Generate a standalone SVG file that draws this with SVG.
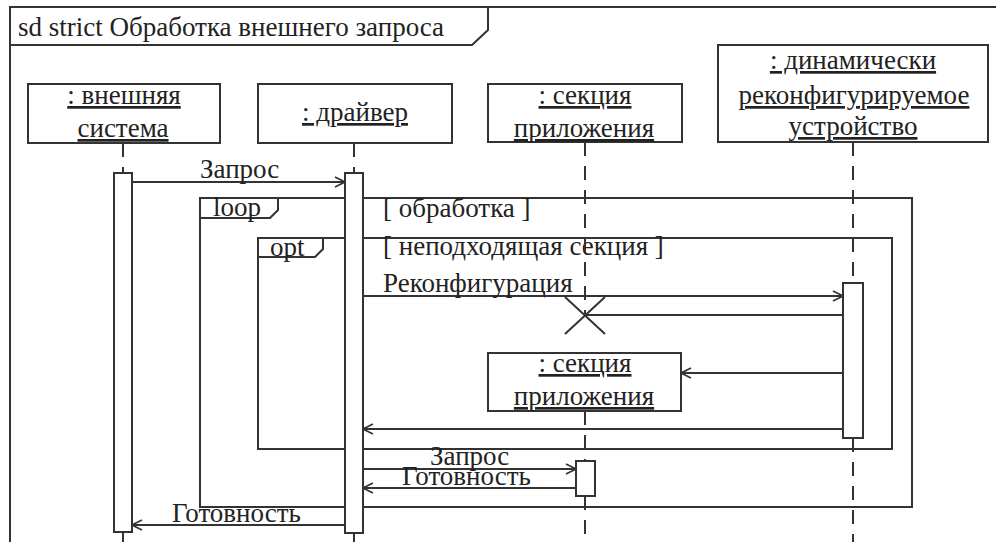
<svg xmlns="http://www.w3.org/2000/svg" width="996" height="542" viewBox="0 0 996 542" font-family="'Liberation Serif', 'DejaVu Serif', serif">
<defs>
<style>
text{font-family:'Liberation Serif','DejaVu Serif',serif;font-size:27px;fill:#222}
.u{text-decoration:underline}
.m{text-anchor:middle}
.ln{stroke:#333;stroke-width:2;fill:none}
.box{stroke:#333;stroke-width:2;fill:#fff}
.dash{stroke:#333;stroke-width:2;stroke-dasharray:14 10;fill:none}
.msg{stroke:#333;stroke-width:2;fill:none}
.arr{marker-end:url(#open)}
</style>
<marker id="open" viewBox="0 0 12 12" refX="11" refY="6" markerWidth="12" markerHeight="12" markerUnits="userSpaceOnUse" orient="auto">
<path d="M1,1 L11,6 L1,11" fill="none" stroke="#333" stroke-width="1.6"/>
</marker>
</defs>
<rect width="996" height="542" fill="#fff"/>
<g id="frame">
<path class="ln" d="M10,542 V7 H996"/>
<path class="ln" d="M10,45 H472 L488,30 V7"/>
<text x="18" y="36">sd strict Обработка внешнего запроса</text>
</g>
<g id="loop">
<rect class="ln" x="200" y="198" width="712" height="309"/>
<path class="ln" d="M200,218 H270 L278,210 V198"/>
<text x="213" y="216">loop</text>
<text x="383" y="217">[ обработка ]</text>
</g>
<g id="opt">
<rect class="ln" x="258" y="238" width="634" height="211"/>
<path class="ln" d="M258,257 H315 L323,249 V238"/>
<text x="270" y="256">opt</text>
<text x="383" y="255">[ неподходящая секция ]</text>
</g>
<g id="external">
<rect class="box" x="28" y="84" width="192" height="59"/>
<text class="u m" x="124" y="104">: внешняя</text>
<text class="u m" x="123" y="137">система</text>
<path class="dash" d="M123,143 V173"/>
<rect class="box" x="114" y="173" width="18" height="359"/>
<path class="dash" d="M123,532 V542"/>
</g>
<g id="driver">
<rect class="box" x="258" y="84" width="194" height="59"/>
<text class="u m" x="355" y="121">: драйвер</text>
<path class="dash" d="M354,143 V173"/>
<rect class="box" x="345" y="173" width="18" height="360"/>
<path class="dash" d="M354,533 V542"/>
</g>
<g id="section">
<rect class="box" x="488" y="84" width="194" height="58"/>
<text class="u m" x="585" y="104">: секция</text>
<text class="u m" x="584" y="137">приложения</text>
<path class="dash" d="M585,142 V315"/>
<path class="ln" d="M565,297 L605,334 M605,297 L565,334"/>
</g>
<g id="device">
<rect class="box" x="718" y="45" width="270" height="97"/>
<text class="u m" x="853" y="69">: динамически</text>
<text class="u m" x="854" y="104">реконфигурируемое</text>
<text class="u m" x="853" y="135">устройство</text>
<path class="dash" d="M853,142 V283"/>
<rect class="box" x="843" y="283" width="20" height="155"/>
<path class="dash" d="M853,438 V542"/>
</g>
<g id="section2">
<rect class="box" x="488" y="353" width="193" height="58"/>
<text class="u m" x="585" y="372">: секция</text>
<text class="u m" x="584" y="405">приложения</text>
<path class="dash" d="M585,411 V461"/>
<rect class="box" x="576" y="461" width="19" height="35"/>
<path class="dash" d="M585,496 V542"/>
</g>
<g id="connectors">
<path class="msg arr" d="M133,182 H345"/>
<text x="200" y="178">Запрос</text>
<path class="msg arr" d="M363,296 H843"/>
<text x="383" y="292">Реконфигурация</text>
<path class="msg" d="M843,315 H585"/>
<path class="msg arr" d="M843,373 H681"/>
<path class="msg arr" d="M843,429 H363"/>
<path class="msg arr" d="M363,469 H576"/>
<text x="430" y="465">Запрос</text>
<path class="msg arr" d="M576,488 H363"/>
<text x="402" y="485">Готовность</text>
<path class="msg arr" d="M345,525 H132"/>
<text x="172" y="522">Готовность</text>
</g>
</svg>
